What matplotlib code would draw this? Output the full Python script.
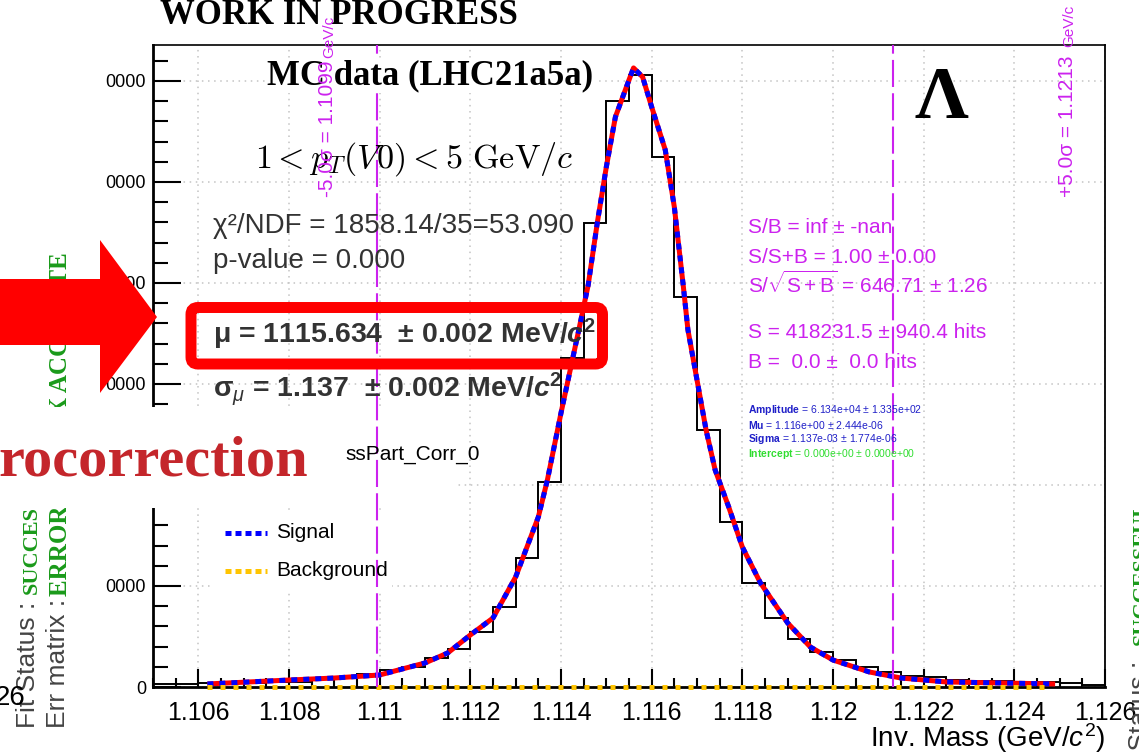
import matplotlib
matplotlib.use("Agg")
import matplotlib.pyplot as plt
from matplotlib.transforms import Affine2D
from matplotlib.patches import Rectangle, FancyBboxPatch, Polygon

W, H = 1139, 752

plt.rcParams['font.family'] = ['Liberation Sans', 'DejaVu Sans']
plt.rcParams['mathtext.fontset'] = 'custom'
plt.rcParams['mathtext.rm'] = 'Liberation Sans'
plt.rcParams['mathtext.it'] = 'Liberation Sans:italic'
plt.rcParams['mathtext.bf'] = 'Liberation Sans:bold'
plt.rcParams['mathtext.bfit'] = 'Liberation Sans:italic:bold'

# histogram, 0.5 MeV bins from 1.105 to 1.126
bin_lo, bin_w = 1.105, 0.0005
counts = [300, 300, 350, 350, 400, 450, 500, 790, 890, 1290,
          1680, 1980, 2870, 3760, 5450, 7920, 12770, 20300, 32570, 45940,
          58020, 60590, 52480, 38610, 25450, 16340, 10300, 6830, 4750, 3470,
          2670, 1980, 1490, 1090, 990, 700, 600, 550, 500, 450,
          400, 200]
edges = [bin_lo + bin_w * i for i in range(len(counts) + 1)]

# fitted signal
fit_x = [1.1062, 1.1080, 1.1090, 1.1100, 1.1110, 1.1115, 1.1120, 1.1125, 1.1130, 1.1135,
         1.1137, 1.1140, 1.1144, 1.1146, 1.1148, 1.1150, 1.1152, 1.1155, 1.1156, 1.1158,
         1.1160, 1.1163, 1.1165, 1.1167, 1.1168, 1.1170, 1.1172, 1.1174, 1.1177, 1.1180,
         1.1184, 1.1190, 1.1195, 1.1200, 1.1208, 1.1215, 1.1225, 1.1237, 1.1249]
fit_y = [300, 690, 890, 1190, 2380, 3370, 5150, 6830, 10900, 16830,
         20500, 27130, 35500, 39800, 45940, 51490, 56440, 60100, 61290, 60400,
         57430, 53170, 47520, 39600, 35350, 30400, 25450, 21490, 17820, 13860,
         10300, 6340, 3960, 2670, 1490, 890, 500, 400, 300]
bkg_x = [1.1062, 1.1248]
bkg_y = [0, 0]

sigma_lines = [1.10995, 1.12132]
xticks = [1.106, 1.108, 1.110, 1.112, 1.114, 1.116, 1.118, 1.120, 1.122, 1.124, 1.126]
xtick_labels = ['1.106', '1.108', '1.11', '1.112', '1.114', '1.116', '1.118', '1.12', '1.122', '1.124', '1.126']
yticks = [0, 10000, 20000, 30000, 40000, 50000, 60000]
ytick_labels = ['0', '0000', '0000', '0000', '0000', '0000', '0000']

fig = plt.figure(figsize=(W / 100, H / 100), dpi=100)
px = Affine2D().scale(1 / W, -1 / H).translate(0, 1) + fig.transFigure

ax = fig.add_axes([153 / W, (H - 687) / H, (1105 - 153) / W, (687 - 45) / H])
ax.set_xlim(1.105, 1.126)
ax.set_ylim(0, 63560)

ax.stairs(counts, edges, color='black', lw=1.4, zorder=2)
ax.plot(fit_x, fit_y, color='red', lw=3.6, zorder=3, solid_capstyle='butt')
ax.plot(fit_x, fit_y, color='blue', lw=3.6, ls=(0, (1.2, 1.2)), zorder=3.1)
ax.plot(bkg_x, bkg_y, color='#ffc400', lw=3.6, ls=(0, (1, 1.6)), zorder=3.2, clip_on=False)

for xs in sigma_lines:
    ax.axvline(xs, color='#cc22ee', lw=1.5, ls=(0, (13, 3)), zorder=7)

ax.set_xticks(xticks)
ax.set_xticklabels(xtick_labels, fontsize=18)
ax.set_xticks([bin_lo + bin_w * i for i in range(43)], minor=True)
ax.set_yticks(yticks)
ax.set_yticklabels(ytick_labels, fontsize=13)
ax.set_yticks([2000 * i for i in range(32)], minor=True)
ax.tick_params(axis='y', which='major', direction='in', length=20, width=1.5, pad=5)
ax.tick_params(axis='y', which='minor', direction='in', length=11, width=1.5)
ax.tick_params(axis='x', which='major', direction='in', length=13, width=1.5, pad=10)
ax.tick_params(axis='x', which='minor', direction='in', length=6.5, width=1.5)
ax.grid(True, which='major', color='#c4c4c4', ls=(0, (1, 3)), lw=1.1)
for s in ['left', 'bottom']:
    ax.spines[s].set_linewidth(2)
ax.spines['top'].set_linewidth(1.2)
ax.spines['right'].set_linewidth(1.3)
ax.spines['right'].set_linestyle((0, (2, 1)))
ax.set_xlabel(r'Inv. Mass (GeV/$c^2$)', fontsize=20)
ax.xaxis.set_label_coords(1.0, -0.053)
ax.xaxis.label.set_ha('right')


def t(x, y, s, **kw):
    kw.setdefault('zorder', 8)
    return ax.text(x, y, s, transform=px, clip_on=False, **kw)


# white panes (title pave, legend)
ax.add_patch(Rectangle((0, 407), 456, 101, transform=px, fc='white', ec='none', zorder=6, clip_on=False))
ax.add_patch(Rectangle((214, 510), 178, 82, transform=px, fc='white', ec='none', zorder=6, clip_on=False))

# side rotated labels
grey = '#444444'
green = '#1a9a1a'
t(35, 728, 'Fit Status : ', rotation=90, rotation_mode='anchor', ha='left', va='baseline',
  fontsize=19, color=grey, zorder=5)
t(37, 594, 'SUCCESSFUL', rotation=90, rotation_mode='anchor', ha='left', va='baseline',
  fontsize=16, color=green, family='Liberation Serif', weight='bold', zorder=5)
t(65, 728, 'Err matrix : ', rotation=90, rotation_mode='anchor', ha='left', va='baseline',
  fontsize=19, color=grey, zorder=5)
t(67, 596, 'ERROR MATRIX ACCURATE', rotation=90, rotation_mode='anchor', ha='left', va='baseline',
  fontsize=18, color=green, family='Liberation Serif', weight='bold', zorder=5)
t(1147, 653, 'Fit Status : ', rotation=90, rotation_mode='anchor', ha='right', va='baseline',
  fontsize=19, color=grey, zorder=5)
t(1147, 645, 'SUCCESSFUL', rotation=90, rotation_mode='anchor', ha='left', va='baseline',
  fontsize=16, color=green, family='Liberation Serif', weight='bold', zorder=5)
t(25, 705, '26', ha='right', va='baseline', fontsize=20, color='black', zorder=5)

t(-2, 475, 'rocorrection', ha='left', va='baseline', fontsize=42, color='#c4262b',
  family='Liberation Serif', weight='bold')
t(345, 455, 'ssPart_Corr_0', ha='left', va='center', fontsize=15)

# legend
ax.plot([225, 267], [533, 533], transform=px, color='blue', lw=3.6, ls=(0, (1.2, 0.8)), zorder=8, clip_on=False)
ax.plot([225, 267], [571, 571], transform=px, color='#ffc400', lw=3.6, ls=(0, (1.2, 0.8)), zorder=8, clip_on=False)
t(276, 533, 'Signal', va='center', fontsize=15)
t(276, 570, 'Background', va='center', fontsize=15)

# titles
t(160, 24, 'WORK IN PROGRESS', family='Liberation Serif', weight='bold', fontsize=25, va='baseline')
t(267, 84, 'MC data (LHC21a5a)', family='Liberation Serif', weight='bold', fontsize=25, va='baseline',
  bbox=dict(fc='white', ec='none', pad=1))
t(255, 168, r'$1 < p_T(V0) < 5\ \mathrm{GeV}/c$', math_fontfamily='cm', fontsize=24.5, va='baseline')
t(941, 118, 'Λ', family='Liberation Serif', weight='bold', fontsize=54, ha='center', va='baseline')

# fit summary
dark = '#333333'
t(213, 233, 'χ²/NDF = 1858.14/35=53.090', fontsize=20, color=dark, va='baseline')
t(213, 268, 'p-value = 0.000', fontsize=20, color=dark, va='baseline')
t(213, 343, r'μ = 1115.634  ± 0.002 MeV/$\mathbfit{c}^\mathbf{2}$', fontsize=20.5, weight='bold',
  color=dark, va='baseline')
t(213, 397, r'σ$_{μ}$ = 1.137  ± 0.002 MeV/$\mathbfit{c}^\mathbf{2}$', fontsize=20.5, weight='bold',
  color=dark, va='baseline')
ax.add_patch(FancyBboxPatch((191, 307.5), 411.5, 56.5, boxstyle='round,pad=0,rounding_size=7',
                            transform=px, fc='none', ec='#ff0000', lw=7.9, zorder=9, clip_on=False))

mag = '#cc22ee'
t(748, 233, 'S/B = inf ± -nan', fontsize=15, color=mag, va='baseline')
t(748, 263, 'S/S+B = 1.00 ± 0.00', fontsize=15, color=mag, va='baseline')
t(748, 293, r'S/$\sqrt{\mathrm{S+B}}$ = 646.71 ± 1.26', fontsize=15, color=mag, va='baseline')
t(748, 338, 'S = 418231.5 ± 940.4 hits', fontsize=15, color=mag, va='baseline')
t(748, 368, 'B =  0.0 ±  0.0 hits', fontsize=15, color=mag, va='baseline')

t(333, 197, '-5.0σ = 1.1099', rotation=90, rotation_mode='anchor', ha='left', va='baseline',
  fontsize=15, color=mag)
t(333, 58, 'GeV/c', rotation=90, rotation_mode='anchor', ha='left', va='baseline',
  fontsize=11, color=mag)
t(1073, 197, '+5.0σ = 1.1213', rotation=90, rotation_mode='anchor', ha='left', va='baseline',
  fontsize=15, color=mag)
t(1073, 47, 'GeV/c', rotation=90, rotation_mode='anchor', ha='left', va='baseline',
  fontsize=11, color=mag)

blue = '#2020c8'
t(748, 410, r'$\mathbf{Amplitude}$ = 6.134e+04 ± 1.335e+02', fontsize=7.5, color=blue, va='center')
t(748, 425, r'$\mathbf{Mu}$ = 1.116e+00 ± 2.444e-06', fontsize=7.5, color=blue, va='center')
t(748, 439, r'$\mathbf{Sigma}$ = 1.137e-03 ± 1.774e-06', fontsize=7.5, color=blue, va='center')
t(748, 454, r'$\mathbf{Intercept}$ = 0.000e+00 ± 0.000e+00', fontsize=7.5, color='#30dd30', va='center')

# big red arrow
ax.add_patch(Polygon([(-5, 279), (100, 279), (100, 240), (157, 317), (100, 393), (100, 345), (-5, 345)],
                     closed=True, transform=px, fc='#ff0000', ec='none', zorder=9, clip_on=False))

fig.savefig('out.png', dpi=100)
